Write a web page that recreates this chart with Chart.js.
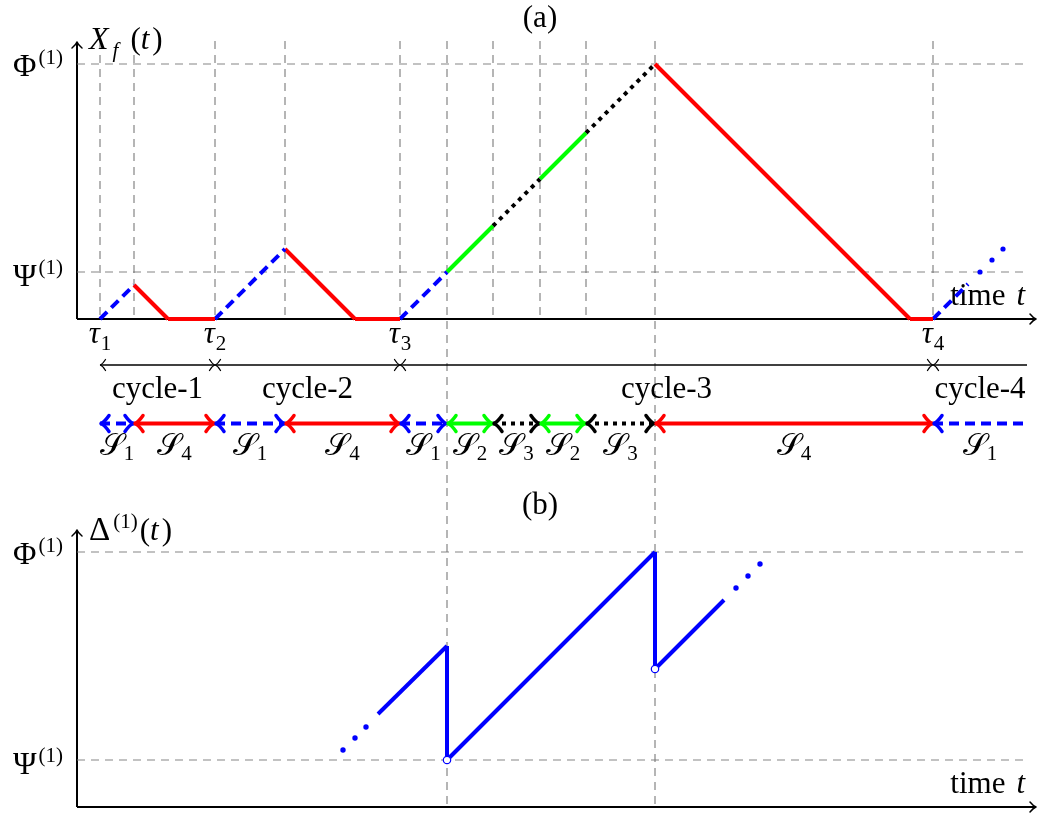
<!DOCTYPE html>
<html>
<head>
<meta charset="utf-8">
<script src="https://cdn.jsdelivr.net/npm/chart.js@4.4.0/dist/chart.umd.min.js"></script>
<style>
    html, body { margin: 0; padding: 0; background: #fff; }
    #chartA { position: absolute; left: 0; top: 0; }
    #chartB { position: absolute; left: 0; top: 488px; }
</style>
</head>
<body>
<canvas id="chartA" width="1039" height="488"></canvas>
<canvas id="chartB" width="1039" height="329"></canvas>
<script>
// Umbrales
const PHI = 25.5;
const PSI = 4.7;

// Trayectoria X_f(t): vértices y estado de cada tramo
const xfTime  = [2.3, 5.7, 9.1, 13.8, 20.8, 27.8, 32.3, 37.0, 41.6, 46.3, 50.9, 57.8, 83.3, 85.6, 89.1];
const xfValue = [0, 3.4, 0, 0, 7.0, 0, 0, 4.7, 9.3, 14.0, 18.6, 25.5, 0, 0, 3.5];
const xfState = ['S1', 'S4', 'S4', 'S1', 'S4', 'S4', 'S1', 'S2', 'S3', 'S2', 'S3', 'S4', 'S4', 'S1'];
const xfDotsTime  = [90.3, 91.5, 92.6];
const xfDotsValue = [4.7, 5.9, 7.0];

// Ciclos
const tauTime = [2.3, 13.8, 32.3, 85.6];
const tauNames = ['1', '2', '3', '4'];
const cycleEnd = 95.0;
const cycleNames = ['cycle-1', 'cycle-2', 'cycle-3', 'cycle-4'];

// Franja de estados
const bandEdges = [2.3, 5.7, 13.8, 20.8, 32.3, 37.0, 41.6, 46.3, 50.9, 57.8, 85.6, 95.0];
const bandState = ['S1', 'S4', 'S1', 'S4', 'S1', 'S2', 'S3', 'S2', 'S3', 'S4', 'S1'];

// Líneas guía verticales
const guideTime = [2.3, 5.7, 13.8, 20.8, 32.3, 41.6, 46.3, 50.9, 85.6];
const longGuideTime = [37.0, 57.8];

// Delta(t)
const deltaTime  = [30.1, 37.0, 37.0, 57.8, 57.8, 64.7];
const deltaValue = [9.3, 16.1, PSI, PHI, 13.8, 20.7];
const deltaDotsTime  = [26.6, 27.8, 28.9, 65.9, 67.1, 68.3];
const deltaDotsValue = [5.7, 6.9, 8.0, 21.9, 23.1, 24.3];
const resetTime  = [37.0, 57.8];
const resetValue = [PSI, 13.8];

// filas bajo el eje
const CYCLE_ROW = -4.6;
const BAND_ROW = -10.45;
const AXIS_TOP = 27.7;
const AXIS_END = 96;
const GUIDE_END = 95;

const styles = {
    S1: { color: '#0000ff', dash: [10, 6] },
    S2: { color: '#00ff00', dash: [] },
    S3: { color: '#000000', dash: [4, 5] },
    S4: { color: '#ff0000', dash: [] }
};
const GRID = 'rgba(120,120,120,0.9)';
const SERIF = '"Liberation Serif", "Times New Roman", "DejaVu Serif", "DejaVu Sans", serif';
const FS = 31;   // cuerpo principal
const SS = 21;   // sub/superíndices

function seg(x0, y0, x1, y1, color, width, dash, order) {
    return {
        type: 'line',
        data: [{ x: x0, y: y0 }, { x: x1, y: y1 }],
        borderColor: color,
        borderWidth: width,
        borderDash: dash,
        borderCapStyle: 'butt',
        pointRadius: 0,
        fill: false,
        order: order
    };
}

function dots(xs, ys, r, fillColor, borderColor, bw, order) {
    return {
        type: 'scatter',
        data: xs.map((x, i) => ({ x: x, y: ys[i] })),
        pointRadius: r,
        backgroundColor: fillColor,
        borderColor: borderColor,
        borderWidth: bw,
        order: order
    };
}

function fontOf(size, italic) {
    return (italic ? 'italic ' : '') + size + 'px ' + SERIF;
}

// texto con sub/superíndices: [texto, tamaño, cursiva, dy, espacio extra]
function mathText(ctx, parts, x, y, align) {
    let total = 0;
    const widths = parts.map(p => {
        ctx.font = fontOf(p[1], p[2]);
        const w = ctx.measureText(p[0]).width + (p[4] || 0);
        total += w;
        return w;
    });
    let cx = align === 'center' ? x - total / 2 : align === 'right' ? x - total : x;
    ctx.save();
    ctx.fillStyle = '#000';
    ctx.textAlign = 'left';
    ctx.textBaseline = 'alphabetic';
    parts.forEach((p, i) => {
        ctx.font = fontOf(p[1], p[2]);
        ctx.fillText(p[0], cx, y + (p[3] || 0));
        cx += widths[i];
    });
    ctx.restore();
}

function arrowTip(ctx, x, y, dx, dy, len, half, lw, color) {
    const px = -dy, py = dx;
    ctx.save();
    ctx.strokeStyle = color;
    ctx.lineWidth = lw;
    ctx.lineCap = 'round';
    ctx.lineJoin = 'round';
    ctx.setLineDash([]);
    ctx.beginPath();
    [1, -1].forEach(s => {
        const bx = x - dx * len + s * px * half, by = y - dy * len + s * py * half;
        const qx = x - dx * len * 0.45 + s * px * half * 0.2;
        const qy = y - dy * len * 0.45 + s * py * half * 0.2;
        ctx.moveTo(bx, by);
        ctx.quadraticCurveTo(qx, qy, x, y);
    });
    ctx.stroke();
    ctx.restore();
}

function drawAxes(chart) {
    const { ctx, scales: { x, y } } = chart;
    const x0 = x.getPixelForValue(0), y0 = y.getPixelForValue(0);
    const yTop = y.getPixelForValue(AXIS_TOP), xEnd = x.getPixelForValue(AXIS_END) - 1;
    ctx.save();
    ctx.strokeStyle = '#000';
    ctx.lineWidth = 2;
    ctx.beginPath();
    ctx.moveTo(x0, y0);
    ctx.lineTo(x0, yTop);
    ctx.moveTo(x0, y0);
    ctx.lineTo(xEnd, y0);
    ctx.stroke();
    ctx.restore();
    arrowTip(ctx, x0, yTop, 0, -1, 6, 5, 1.5, '#000');
    arrowTip(ctx, xEnd, y0, 1, 0, 6, 5, 1.5, '#000');
}

function levelLabels(chart) {
    const { ctx, scales: { x, y } } = chart;
    const xr = x.getPixelForValue(0) - 14;
    mathText(ctx, [['Φ', FS + 1, false, 0, 2], ['(1)', SS, false, -12]], xr, y.getPixelForValue(PHI) + 12, 'right');
    mathText(ctx, [['Ψ', FS + 1, false, 0, 2], ['(1)', SS, false, -12]], xr, y.getPixelForValue(PSI) + 14, 'right');
}

function timeLabel(chart) {
    const { ctx, scales: { x, y } } = chart;
    mathText(ctx, [['time', FS, false, 0, 11], ['t', FS, true, 0]],
        x.getPixelForValue(AXIS_END) - 12, y.getPixelForValue(0) - 14, 'right');
}

function guideSets(top, bottomLong) {
    const sets = [];
    guideTime.forEach(t => sets.push(seg(t, top, t, 0, GRID, 1.2, [8, 6], 10)));
    longGuideTime.forEach(t => sets.push(seg(t, top, t, bottomLong, GRID, 1.2, [8, 6], 10)));
    [PHI, PSI].forEach(v => sets.push(seg(0, v, GUIDE_END, v, GRID, 1.2, [8, 6], 10)));
    return sets;
}

// ---------- Panel (a) ----------
const setsA = [];
for (let i = 0; i < xfState.length; i++) {
    const st = styles[xfState[i]];
    setsA.push(seg(xfTime[i], xfValue[i], xfTime[i + 1], xfValue[i + 1], st.color, 4, st.dash, 1));
}
setsA.push(dots(xfDotsTime, xfDotsValue, 2.6, '#0000ff', '#0000ff', 0, 0));
for (let i = 0; i < bandState.length; i++) {
    const st = styles[bandState[i]];
    setsA.push(seg(bandEdges[i], BAND_ROW, bandEdges[i + 1], BAND_ROW, st.color, 4, st.dash, 1));
}
setsA.push(seg(tauTime[0], CYCLE_ROW, cycleEnd, CYCLE_ROW, '#000', 1.3, [], 1));
guideSets(AXIS_TOP + 0.1, -16.9).forEach(s => setsA.push(s));

const panelA = {
    id: 'panelA',
    beforeDatasetsDraw(chart) {
        drawAxes(chart);
        // el rótulo del eje queda bajo la cola punteada
        timeLabel(chart);
    },
    afterDatasetsDraw(chart) {
        const { ctx, scales: { x, y } } = chart;
        // flechas de ciclo
        const yc = y.getPixelForValue(CYCLE_ROW);
        tauTime.forEach((t, i) => {
            const px = x.getPixelForValue(t);
            arrowTip(ctx, px + 0.5, yc, -1, 0, 5, 5.5, 1.3, '#000');
            if (i > 0) arrowTip(ctx, px - 0.5, yc, 1, 0, 5, 5.5, 1.3, '#000');
        });
        // flechas de estados
        const yb = y.getPixelForValue(BAND_ROW);
        bandState.forEach((s, i) => {
            const c = styles[s].color;
            arrowTip(ctx, x.getPixelForValue(bandEdges[i]) + 1, yb, -1, 0, 8, 8, 3.5, c);
            if (i < bandState.length - 1) arrowTip(ctx, x.getPixelForValue(bandEdges[i + 1]) - 1, yb, 1, 0, 8, 8, 3.5, c);
        });
    },
    afterDraw(chart) {
        const { ctx, scales: { x, y } } = chart;
        levelLabels(chart);
        mathText(ctx, [['X', FS + 1, true, 0, 4], ['f', SS, true, 8, 12], ['(', FS, false, 0], ['t', FS, true, 0, 3], [')', FS, false, 0]],
            x.getPixelForValue(0) + 12, 49, 'left');
        mathText(ctx, [['(a)', FS, false, 0]], 540, 27, 'center');
        const y0 = y.getPixelForValue(0);
        tauTime.forEach((t, i) => {
            mathText(ctx, [['τ', FS, true, 0, 1], [tauNames[i], SS, false, 7]], x.getPixelForValue(t), y0 + 24, 'center');
        });
        const yc = y.getPixelForValue(CYCLE_ROW);
        cycleNames.forEach((name, i) => {
            const mid = (tauTime[i] + (i + 1 < tauTime.length ? tauTime[i + 1] : cycleEnd)) / 2;
            mathText(ctx, [[name, FS, false, 0]], x.getPixelForValue(mid), yc + 33, 'center');
        });
        const yb = y.getPixelForValue(BAND_ROW);
        bandState.forEach((s, i) => {
            const mid = (bandEdges[i] + bandEdges[i + 1]) / 2;
            mathText(ctx, [['𝒮', FS, false, 0], [s.slice(1), SS, false, 5]], x.getPixelForValue(mid), yb + 31, 'center');
        });
    }
};

const baseOptions = (yMin, yMax, padTop) => ({
    responsive: false,
    animation: false,
    events: [],
    layout: { autoPadding: false, padding: { left: 77, right: 2, top: padTop, bottom: 0 } },
    plugins: { legend: { display: false }, tooltip: { enabled: false } },
    scales: {
        x: { type: 'linear', min: 0, max: 96, display: false },
        y: { type: 'linear', min: yMin, max: yMax, display: false }
    },
    elements: { line: { tension: 0 } }
});

new Chart(document.getElementById('chartA').getContext('2d'), {
    type: 'line',
    data: { datasets: setsA },
    options: baseOptions(-16.9, 27.8, 41),
    plugins: [panelA]
});

// ---------- Panel (b) ----------
const setsB = [];
for (let i = 0; i < deltaTime.length - 1; i++) {
    setsB.push(seg(deltaTime[i], deltaValue[i], deltaTime[i + 1], deltaValue[i + 1], '#0000ff', 4, [], 1));
}
setsB.push(dots(deltaDotsTime, deltaDotsValue, 2.7, '#0000ff', '#0000ff', 0, 0));
setsB.push(dots(resetTime, resetValue, 3.7, '#ffffff', '#0000ff', 1.2, 0));
guideSets(31.9, 0).filter(s => s.data[0].x !== s.data[1].x || longGuideTime.includes(s.data[0].x))
    .forEach(s => setsB.push(s));

const panelB = {
    id: 'panelB',
    beforeDatasetsDraw(chart) { drawAxes(chart); },
    afterDraw(chart) {
        const { ctx, scales: { x, y } } = chart;
        levelLabels(chart);
        timeLabel(chart);
        mathText(ctx, [['Δ', FS + 2, false, 0, 3], ['(1)', SS, false, -12, 2], ['(', FS, false, 0], ['t', FS, true, 0, 3], [')', FS, false, 0]],
            x.getPixelForValue(0) + 12, 52, 'left');
        mathText(ctx, [['(b)', FS, false, 0]], 540, 26, 'center');
    }
};

new Chart(document.getElementById('chartB').getContext('2d'), {
    type: 'line',
    data: { datasets: setsB },
    options: baseOptions(-1.0, 31.9, 0),
    plugins: [panelB]
});
</script>
</body>
</html>
